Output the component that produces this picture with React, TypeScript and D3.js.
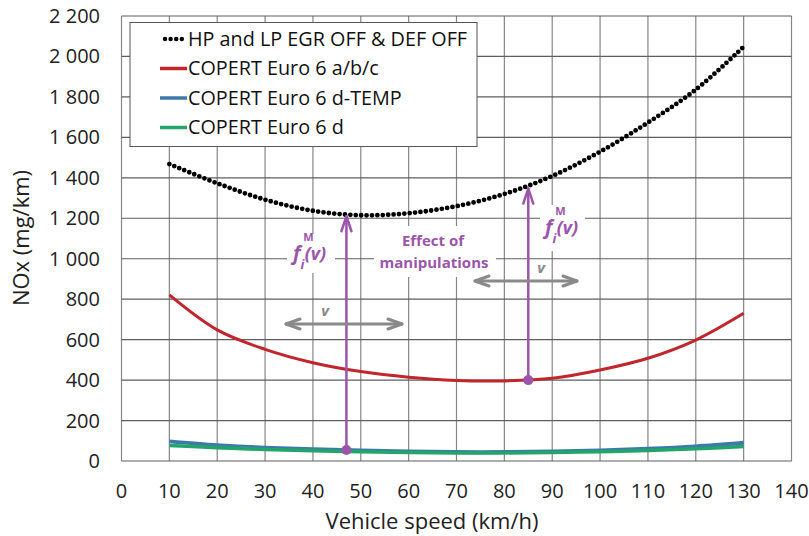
import React from "react";
import * as d3 from "d3";

const speeds = [10, 20, 30, 40, 50, 60, 70, 80, 90, 100, 110, 120, 130];
const hpLpOff = [1468, 1373, 1292, 1237, 1215, 1225, 1260, 1320, 1409, 1529, 1673, 1836, 2048];
const euro6abc = [821, 648, 552, 486, 442, 414, 398, 396, 409, 450, 508, 598, 730];
const euro6dTemp = [97, 78, 66, 58, 52, 47, 44, 44, 47, 52, 60, 72, 90];
const euro6d = [77, 66, 57, 51, 46, 42, 40, 40, 42, 46, 52, 60, 72];

const xTicks = [0, 10, 20, 30, 40, 50, 60, 70, 80, 90, 100, 110, 120, 130, 140];
const yTicks = [0, 200, 400, 600, 800, 1000, 1200, 1400, 1600, 1800, 2000, 2200];

const seriesNames = [
  "HP and LP EGR OFF & DEF OFF",
  "COPERT Euro 6 a/b/c",
  "COPERT Euro 6 d-TEMP",
  "COPERT Euro 6 d",
];
const seriesColors = ["#000000", "#c0262b", "#3d7aab", "#22a46a"];

// annotation arrows (speed, base value, top value)
const annotSpeeds = [47, 85];
const annotBase = [54, 400];
const annotTop = [1215, 1352];

const W = 809;
const H = 536;
const FONT = "'Open Sans', sans-serif";
const PURPLE = "#9b56aa";
const GRAY = "#8a8a8a";

export default function App() {
  const x = d3.scaleLinear().domain([0, 140]).range([121.5, 791.5]);
  const y = d3.scaleLinear().domain([0, 2200]).range([461, 16]);

  const line = d3
    .line<number>()
    .x((_, i) => x(speeds[i]))
    .y((d) => y(d))
    .curve(d3.curveCatmullRom.alpha(0.5));

  const fmt = (v: number) => d3.format(",")(v).replace(/,/g, " ");

  const grayArrow = (x1: number, x2: number, yy: number, key: string) => (
    <g key={key} stroke={GRAY} strokeWidth={3} fill="none" strokeLinecap="round" strokeLinejoin="round">
      <line x1={x1} y1={yy} x2={x2} y2={yy} />
      <polyline points={`${x1 + 14},${yy - 5} ${x1},${yy} ${x1 + 14},${yy + 5}`} />
      <polyline points={`${x2 - 14},${yy - 5} ${x2},${yy} ${x2 - 14},${yy + 5}`} />
    </g>
  );

  const fLabel = (cx: number, cy: number, key: string) => (
    <text key={key} x={cx - 18} y={cy + 6} fill={PURPLE} fontFamily={FONT} fontWeight="bold" fontStyle="italic" fontSize={20}>
      f
      <tspan fontSize={13} dx={0} dy={9}>i</tspan>
      <tspan fontSize={11} fontStyle="normal" dx={-1} dy={-28}>M</tspan>
      <tspan fontSize={18} dx={-9} dy={19}>(v)</tspan>
    </text>
  );

  return (
    <svg width={W} height={H} style={{ position: "absolute", left: 0, top: 0, background: "#fff" }}>
      <rect x={0} y={0} width={W} height={H} fill="#fff" />
      {/* grid */}
      <g>
        {xTicks.map((t) => (
          <line key={"gx" + t} x1={x(t)} x2={x(t)} y1={y(2200)} y2={y(0)} stroke="#868686" strokeWidth={1.2} />
        ))}
        {yTicks.map((t) => (
          <line key={"gy" + t} x1={x(0)} x2={x(140)} y1={y(t)} y2={y(t)} stroke="#5e5e5e" strokeWidth={1.2} />
        ))}
      </g>
      {/* ticks */}
      <g fontFamily={FONT} fontSize={20} fill="#222">
        {yTicks.map((t) => (
          <text key={"ty" + t} x={100} y={y(t)} dy="0.35em" textAnchor="end">
            {fmt(t)}
          </text>
        ))}
        {xTicks.map((t) => (
          <text key={"tx" + t} x={x(t)} y={491} dy="0.35em" textAnchor="middle">
            {t}
          </text>
        ))}
      </g>
      <text x={432} y={521} dy="0.35em" textAnchor="middle" fontFamily={FONT} fontSize={22} fill="#222">
        Vehicle speed (km/h)
      </text>
      <text
        transform={`translate(21,238) rotate(-90)`}
        dy="0.35em"
        textAnchor="middle"
        fontFamily={FONT}
        fontSize={22}
        fill="#222"
      >
        NOx (mg/km)
      </text>

      {/* series */}
      <path d={line(euro6dTemp) || ""} fill="none" stroke={seriesColors[2]} strokeWidth={4} />
      <path d={line(euro6d) || ""} fill="none" stroke={seriesColors[3]} strokeWidth={3.5} />
      <path d={line(euro6abc) || ""} fill="none" stroke={seriesColors[1]} strokeWidth={3} />
      <path
        d={line(hpLpOff) || ""}
        fill="none"
        stroke={seriesColors[0]}
        strokeWidth={4.8}
        strokeDasharray="0 5.4"
        strokeLinecap="round"
      />

      {/* label backgrounds */}
      <rect x={374} y={226} width={122} height={51} fill="#fff" />
      <rect x={287} y={234} width={48} height={39} fill="#fff" />
      <rect x={540} y={205} width={45} height={46} fill="#fff" />

      {/* purple annotation arrows */}
      {annotSpeeds.map((s, i) => (
        <g key={"pa" + i} stroke={PURPLE} strokeWidth={2.5} fill="none" strokeLinecap="round" strokeLinejoin="round">
          <line x1={x(s)} x2={x(s)} y1={y(annotBase[i])} y2={y(annotTop[i]) + 1} />
          <polyline
            points={`${x(s) - 5},${y(annotTop[i]) + 16} ${x(s)},${y(annotTop[i]) + 1} ${x(s) + 5},${y(annotTop[i]) + 16}`}
          />
          <circle cx={x(s)} cy={y(annotBase[i])} r={5} fill={PURPLE} stroke="none" />
        </g>
      ))}

      {fLabel(311, 254, "f1")}
      {fLabel(563, 228, "f2")}
      <g fill={PURPLE} fontFamily={FONT} fontWeight="bold" fontSize={15} textAnchor="middle">
        <text x={433} y={241} dy="0.35em">Effect of</text>
        <text x={434} y={263} dy="0.35em">manipulations</text>
      </g>

      {/* gray v arrows */}
      {grayArrow(286, 402, 324, "ga1")}
      {grayArrow(475, 577, 281, "ga2")}
      <g fill={GRAY} fontFamily={FONT} fontWeight="bold" fontStyle="italic" fontSize={15} textAnchor="middle">
        <text x={325} y={311} dy="0.35em">v</text>
        <text x={541} y={268} dy="0.35em">v</text>
      </g>

      {/* legend */}
      <g>
        <rect x={130} y={22.5} width={347} height={124} fill="#fff" stroke="#555" strokeWidth={1} />
        {seriesNames.map((n, i) => {
          const ly = 39 + i * 29.5;
          return (
            <g key={"lg" + i}>
              {i === 0 ? (
                <line
                  x1={165}
                  x2={183}
                  y1={ly}
                  y2={ly}
                  stroke={seriesColors[i]}
                  strokeWidth={4.5}
                  strokeDasharray="0 5.6"
                  strokeLinecap="round"
                />
              ) : (
                <line x1={160} x2={187} y1={ly} y2={ly} stroke={seriesColors[i]} strokeWidth={3.5} />
              )}
              <text x={188} y={ly} dy="0.35em" fontFamily={FONT} fontSize={19.8} fill="#111">
                {n}
              </text>
            </g>
          );
        })}
      </g>
    </svg>
  );
}
